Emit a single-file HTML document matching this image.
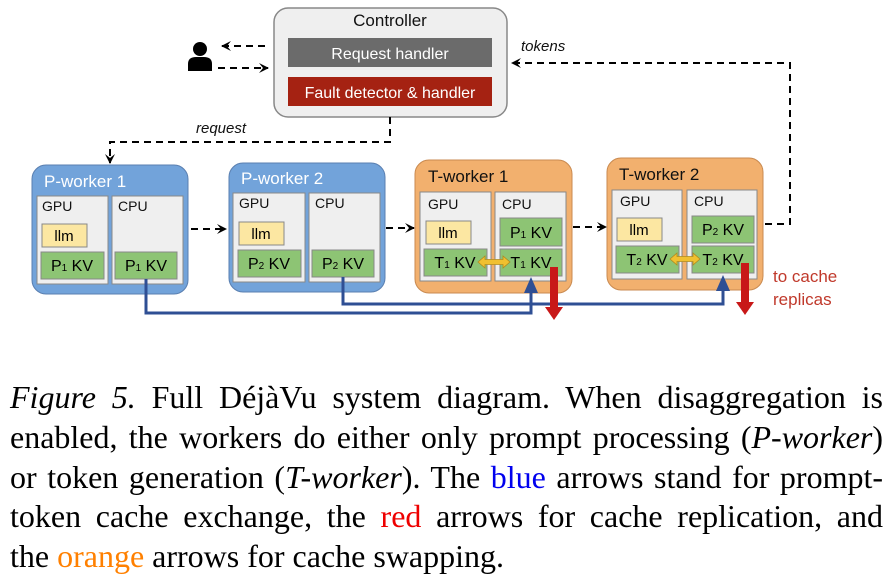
<!DOCTYPE html>
<html><head><meta charset="utf-8"><style>
body{margin:0;background:#fff;width:893px;height:580px;position:relative;overflow:hidden}
svg{display:block;position:absolute;left:0;top:0}
.cap{position:absolute;left:10px;width:873px;font-family:"Liberation Serif","Times New Roman",serif;font-size:32px;line-height:40px;color:#000;white-space:nowrap;text-align:justify;text-align-last:justify}
.cap.last{text-align:left;text-align-last:left;width:auto}
i{font-style:italic}
</style></head>
<body>
<svg width="893" height="580" viewBox="0 0 893 580" xmlns="http://www.w3.org/2000/svg" font-family="'Liberation Sans', sans-serif">
<defs>
<marker id="ah" markerWidth="10" markerHeight="10" refX="9" refY="5" orient="auto" markerUnits="userSpaceOnUse"><path d="M0,0 L10,5 L0,10 L4,5 z" fill="#000"/></marker>
</defs>
<rect x="274" y="8" width="233" height="109" rx="14" fill="#efefef" stroke="#888" stroke-width="1.5"/>
<text x="390" y="26" font-size="17" text-anchor="middle" fill="#111">Controller</text>
<rect x="288" y="38" width="204" height="29" fill="#6b6b6b"/>
<text x="390" y="59" font-size="16" text-anchor="middle" fill="#fff">Request handler</text>
<rect x="288" y="77" width="204" height="29" fill="#a52212"/>
<text x="390" y="98" font-size="16" text-anchor="middle" fill="#fff">Fault detector &amp; handler</text>
<circle cx="200" cy="49" r="7" fill="#000"/>
<path d="M188,71 L188,64 Q188,57 196,57 L204,57 Q212,57 212,64 L212,71 Z" fill="#000"/>
<g stroke="#000" stroke-width="2" stroke-dasharray="7,5" fill="none">
<line x1="265" y1="46" x2="222" y2="46" marker-end="url(#ah)"/>
<line x1="218" y1="68" x2="268" y2="68" marker-end="url(#ah)"/>
<polyline points="390,117 390,142 110,142 110,163" marker-end="url(#ah)"/>
<polyline points="765,224 790,224 790,63 512,63" marker-end="url(#ah)"/>
<line x1="191" y1="229" x2="226" y2="229" marker-end="url(#ah)"/>
<line x1="386" y1="228" x2="414" y2="228" marker-end="url(#ah)"/>
<line x1="573" y1="227" x2="606" y2="227" marker-end="url(#ah)"/>
</g>
<text x="196" y="133" font-size="15" font-style="italic" fill="#111">request</text>
<text x="521" y="51" font-size="15" font-style="italic" fill="#111">tokens</text>
<rect x="32" y="165" width="156" height="129" rx="14" fill="#72a3da" stroke="#5a7fb0"/>
<text x="44" y="187" font-size="17" fill="#fff">P-worker 1</text>
<rect x="37" y="196" width="71" height="88" fill="#efefef" stroke="#888"/>
<rect x="112" y="196" width="71" height="88" fill="#efefef" stroke="#888"/>
<text x="42" y="211" font-size="14" fill="#111">GPU</text>
<text x="118" y="211" font-size="14" fill="#111">CPU</text>
<rect x="42" y="224" width="45" height="23" fill="#fce7a2" stroke="#888"/>
<text x="64" y="241" font-size="15" text-anchor="middle">llm</text>
<rect x="41" y="252" width="63" height="27" fill="#8dc474" stroke="#888"/>
<text x="72" y="271" font-size="16" text-anchor="middle">P<tspan font-size="10">1</tspan> KV</text>
<rect x="115" y="252" width="62" height="27" fill="#8dc474" stroke="#888"/>
<text x="146" y="271" font-size="16" text-anchor="middle">P<tspan font-size="10">1</tspan> KV</text>
<rect x="229" y="163" width="156" height="129" rx="14" fill="#72a3da" stroke="#5a7fb0"/>
<text x="241" y="184" font-size="17" fill="#fff">P-worker 2</text>
<rect x="233" y="193" width="72" height="89" fill="#efefef" stroke="#888"/>
<rect x="309" y="193" width="71" height="89" fill="#efefef" stroke="#888"/>
<text x="239" y="208" font-size="14" fill="#111">GPU</text>
<text x="315" y="208" font-size="14" fill="#111">CPU</text>
<rect x="239" y="222" width="45" height="23" fill="#fce7a2" stroke="#888"/>
<text x="261" y="239" font-size="15" text-anchor="middle">llm</text>
<rect x="238" y="250" width="63" height="27" fill="#8dc474" stroke="#888"/>
<text x="269" y="269" font-size="16" text-anchor="middle">P<tspan font-size="10">2</tspan> KV</text>
<rect x="312" y="250" width="62" height="27" fill="#8dc474" stroke="#888"/>
<text x="343" y="269" font-size="16" text-anchor="middle">P<tspan font-size="10">2</tspan> KV</text>
<rect x="415" y="160" width="157" height="133" rx="14" fill="#f2b06e" stroke="#c98a50"/>
<text x="428" y="182" font-size="17" fill="#111">T-worker 1</text>
<rect x="420" y="192" width="71" height="89" fill="#efefef" stroke="#888"/>
<rect x="495" y="192" width="71" height="89" fill="#efefef" stroke="#888"/>
<text x="428" y="209" font-size="14" fill="#111">GPU</text>
<text x="502" y="209" font-size="14" fill="#111">CPU</text>
<rect x="426" y="221" width="45" height="23" fill="#fce7a2" stroke="#888"/>
<text x="448" y="238" font-size="15" text-anchor="middle">llm</text>
<rect x="500" y="218" width="62" height="28" fill="#8dc474" stroke="#888"/>
<text x="531" y="238" font-size="16" text-anchor="middle">P<tspan font-size="10">1</tspan> KV</text>
<rect x="424" y="249" width="63" height="27" fill="#8dc474" stroke="#888"/>
<text x="455" y="268" font-size="16" text-anchor="middle">T<tspan font-size="10">1</tspan> KV</text>
<rect x="500" y="249" width="62" height="27" fill="#8dc474" stroke="#888"/>
<text x="531" y="268" font-size="16" text-anchor="middle">T<tspan font-size="10">1</tspan> KV</text>
<rect x="607" y="158" width="156" height="132" rx="14" fill="#f2b06e" stroke="#c98a50"/>
<text x="619" y="180" font-size="17" fill="#111">T-worker 2</text>
<rect x="612" y="190" width="70" height="89" fill="#efefef" stroke="#888"/>
<rect x="687" y="190" width="70" height="89" fill="#efefef" stroke="#888"/>
<text x="620" y="206" font-size="14" fill="#111">GPU</text>
<text x="694" y="206" font-size="14" fill="#111">CPU</text>
<rect x="617" y="218" width="45" height="23" fill="#fce7a2" stroke="#888"/>
<text x="639" y="235" font-size="15" text-anchor="middle">llm</text>
<rect x="692" y="216" width="62" height="27" fill="#8dc474" stroke="#888"/>
<text x="723" y="235" font-size="16" text-anchor="middle">P<tspan font-size="10">2</tspan> KV</text>
<rect x="616" y="246" width="63" height="27" fill="#8dc474" stroke="#888"/>
<text x="647" y="265" font-size="16" text-anchor="middle">T<tspan font-size="10">2</tspan> KV</text>
<rect x="692" y="246" width="62" height="27" fill="#8dc474" stroke="#888"/>
<text x="723" y="265" font-size="16" text-anchor="middle">T<tspan font-size="10">2</tspan> KV</text>
<g fill="#f0c030" stroke="#b08a20" stroke-width="0.8">
<path d="M478,262 L485,256 L485,259.5 L503,259.5 L503,256 L510,262 L503,268 L503,264.5 L485,264.5 L485,268 Z"/>
<path d="M670,259 L677,253 L677,256.5 L693,256.5 L693,253 L700,259 L693,265 L693,261.5 L677,261.5 L677,265 Z"/>
</g>
<g stroke="#2f4f94" stroke-width="3" fill="none">
<polyline points="146,279 146,313 531,313 531,290"/>
<polyline points="343,277 343,304 723,304 723,288"/>
</g>
<path d="M524,293 L531,277 L538,293 Z" fill="#2f4f94"/>
<path d="M716,291 L723,275 L730,291 Z" fill="#2f4f94"/>
<rect x="550" y="267" width="8" height="41" fill="#c81818"/>
<path d="M545,307 L563,307 L554,320 Z" fill="#c81818"/>
<rect x="741" y="263" width="8" height="40" fill="#c81818"/>
<path d="M736,302 L754,302 L745,315 Z" fill="#c81818"/>
<text x="773" y="282" font-size="17" fill="#c0392b">to cache</text>
<text x="773" y="305" font-size="17" fill="#c0392b">replicas</text>
</svg>
<div class="cap" style="top:377px"><i>Figure 5.</i> Full DéjàVu system diagram.  When disaggregation is</div>
<div class="cap" style="top:417px">enabled, the workers do either only prompt processing (<i>P-worker</i>)</div>
<div class="cap" style="top:457px">or token generation (<i>T-worker</i>). The <span style="color:#0000ee">blue</span> arrows stand for prompt-</div>
<div class="cap" style="top:496px">token cache exchange, the <span style="color:#ee0000">red</span> arrows for cache replication, and</div>
<div class="cap last" style="top:536px">the <span style="color:#ff8000">orange</span> arrows for cache swapping.</div>
</body></html>
